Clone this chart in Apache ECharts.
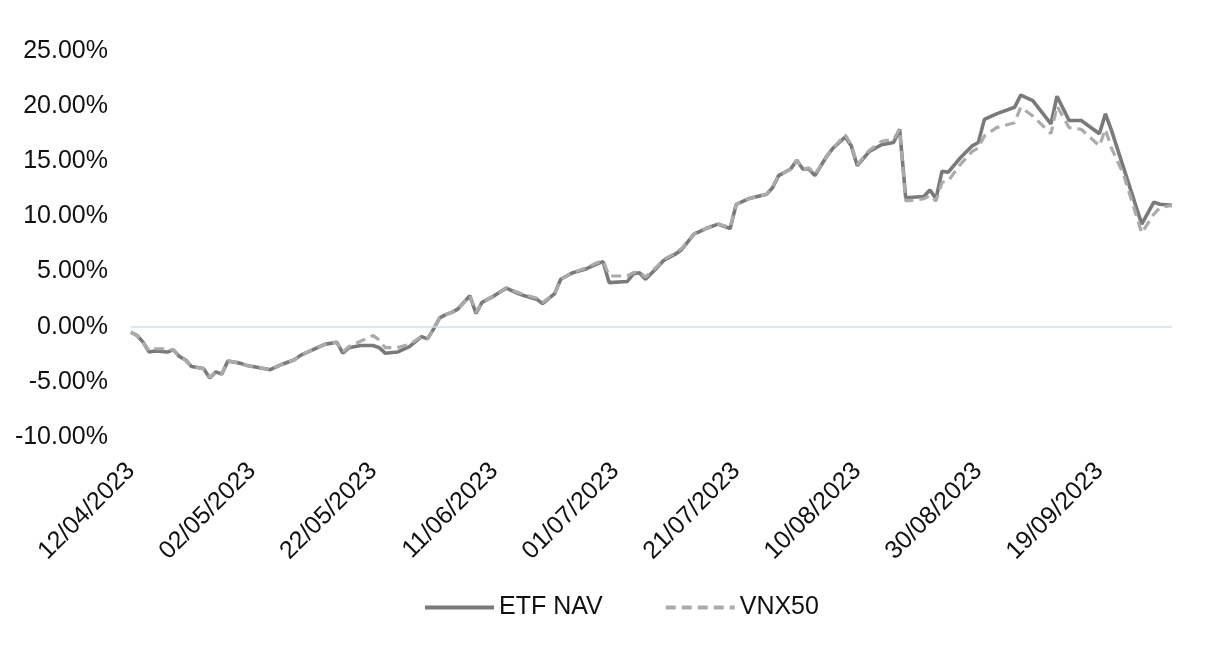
<!DOCTYPE html>
<html>
<head>
<meta charset="utf-8">
<style>
  html, body { margin: 0; padding: 0; background: #ffffff; }
  #chart { width: 1210px; height: 649px; }
</style>
<script src="https://cdn.jsdelivr.net/npm/echarts@6/dist/echarts.min.js"></script>
</head>
<body>
<div id="chart"></div>
<script>
// ---- data ----
const dates = [
  '12/04/2023','13/04/2023','14/04/2023','15/04/2023','16/04/2023','17/04/2023','18/04/2023','19/04/2023',
  '20/04/2023','21/04/2023','22/04/2023','23/04/2023','24/04/2023','25/04/2023','26/04/2023','27/04/2023',
  '28/04/2023','30/04/2023','01/05/2023','03/05/2023','05/05/2023','07/05/2023','09/05/2023','10/05/2023',
  '12/05/2023','14/05/2023','16/05/2023','17/05/2023','18/05/2023','20/05/2023','22/05/2023','23/05/2023',
  '24/05/2023','26/05/2023','28/05/2023','30/05/2023','31/05/2023','01/06/2023','02/06/2023','03/06/2023',
  '04/06/2023','05/06/2023','07/06/2023','08/06/2023','09/06/2023','11/06/2023','13/06/2023','15/06/2023',
  '16/06/2023','18/06/2023','19/06/2023','21/06/2023','22/06/2023','24/06/2023','26/06/2023','28/06/2023',
  '29/06/2023','30/06/2023','03/07/2023','04/07/2023','05/07/2023','06/07/2023','08/07/2023','09/07/2023',
  '11/07/2023','12/07/2023','14/07/2023','16/07/2023','18/07/2023','20/07/2023','21/07/2023','23/07/2023',
  '26/07/2023','27/07/2023','28/07/2023','30/07/2023','31/07/2023','01/08/2023','02/08/2023','03/08/2023',
  '05/08/2023','06/08/2023','08/08/2023','09/08/2023','10/08/2023','12/08/2023','14/08/2023','16/08/2023',
  '17/08/2023','18/08/2023','21/08/2023','22/08/2023','23/08/2023','24/08/2023','25/08/2023','27/08/2023',
  '29/08/2023','30/08/2023','31/08/2023','02/09/2023','05/09/2023','06/09/2023','08/09/2023','11/09/2023',
  '12/09/2023','14/09/2023','16/09/2023','19/09/2023','20/09/2023','21/09/2023','23/09/2023','26/09/2023',
  '28/09/2023','29/09/2023','01/10/2023'
];

const etfNav = [
  -0.5,-0.8,-1.4,-2.3,-2.2,-2.25,-2.3,-2.1,
  -2.7,-3.0,-3.6,-3.7,-3.8,-4.65,-4.1,-4.3,
  -3.1,-3.3,-3.5,-3.7,-3.9,-3.4,-3.0,-2.6,
  -2.1,-1.6,-1.4,-2.4,-1.9,-1.7,-1.7,-1.9,
  -2.4,-2.3,-1.8,-0.9,-1.1,-0.2,0.8,1.1,
  1.3,1.6,2.8,1.2,2.2,2.8,3.5,3.0,
  2.8,2.5,2.1,3.0,4.3,4.9,5.2,5.7,
  5.9,4.0,4.1,4.8,4.9,4.3,5.4,6.0,
  6.6,7.0,8.4,8.9,9.3,8.9,11.1,11.6,
  12.0,12.6,13.7,14.3,15.1,14.3,14.3,13.7,
  15.5,16.2,17.2,16.4,14.6,15.9,16.5,16.7,
  17.9,11.7,11.8,12.4,11.6,14.1,14.0,15.3,
  16.4,16.7,18.8,19.3,19.9,21.0,20.5,18.4,
  20.9,18.7,18.7,17.5,19.3,17.8,14.4,9.3,
  11.3,11.1,11.0
];

const vnx50 = [
  -0.5,-0.8,-1.4,-2.2,-2.0,-2.0,-2.05,-2.1,
  -2.7,-3.0,-3.6,-3.7,-3.8,-4.6,-4.1,-4.3,
  -3.1,-3.3,-3.5,-3.7,-3.9,-3.4,-3.0,-2.6,
  -2.1,-1.6,-1.4,-2.3,-1.8,-1.3,-0.8,-1.2,
  -1.9,-1.9,-1.6,-0.9,-1.1,-0.2,0.8,1.1,
  1.3,1.6,2.8,1.3,2.2,2.8,3.5,3.1,
  2.9,2.6,2.2,3.0,4.3,4.9,5.3,5.8,
  6.0,4.6,4.6,4.9,5.0,4.5,5.5,6.1,
  6.7,7.1,8.4,8.9,9.3,9.0,11.1,11.6,
  12.0,12.7,13.7,14.3,15.1,14.3,14.4,13.8,
  15.5,16.2,17.4,16.5,14.7,16.0,16.8,17.0,
  17.9,11.4,11.6,11.9,11.4,13.1,13.2,14.7,
  15.9,16.2,17.3,18.05,18.5,19.9,19.1,17.5,
  20.0,18.05,17.9,16.4,17.9,16.2,13.8,8.5,
  10.2,10.8,11.0
];

const yTicks = { min: -10, max: 25, step: 5 };
const xTickStepDays = 20;

// ---- helpers ----
function parseDMY(s) {
  const p = s.split('/');
  return Date.UTC(+p[2], +p[1] - 1, +p[0]);
}
const base = parseDMY(dates[0]);
const DAY = 86400000;
const dayIdx = dates.map(s => Math.round((parseDMY(s) - base) / DAY));
function fmtDay(v) {
  const d = new Date(base + v * DAY);
  const dd = String(d.getUTCDate()).padStart(2, '0');
  const mm = String(d.getUTCMonth() + 1).padStart(2, '0');
  return dd + '/' + mm + '/' + d.getUTCFullYear();
}
const lastDay = dayIdx[dayIdx.length - 1];

const chart = echarts.init(document.getElementById('chart'), null, { renderer: 'canvas' });
const FONT = '"Liberation Sans", Arial, sans-serif';

chart.setOption({
  backgroundColor: '#ffffff',
  animation: false,
  textStyle: { fontFamily: FONT },
  grid: { left: 131, right: 1210 - 1172, top: 51, bottom: 649 - 437, outerBoundsMode: 'none', containLabel: false },
  legend: {
    left: 418, top: 590,
    itemWidth: 69, itemHeight: 14, itemGap: 61,
    itemStyle: { opacity: 0, borderWidth: 0 },
    lineStyle: { width: 4 },
    textStyle: { fontSize: 25, color: '#111', fontFamily: FONT },
    data: ['ETF NAV', 'VNX50']
  },
  xAxis: {
    type: 'value',
    min: 0, max: lastDay, interval: xTickStepDays,
    axisLine: { show: false },
    axisTick: { show: false },
    splitLine: { show: false },
    axisLabel: {
      rotate: 45, margin: 30, fontSize: 25, color: '#111', fontFamily: FONT,
      showMaxLabel: false,
      formatter: v => (v % xTickStepDays === 0 ? fmtDay(v) : '')
    }
  },
  yAxis: {
    type: 'value',
    min: yTicks.min, max: yTicks.max, interval: yTicks.step,
    axisLine: { show: false },
    axisTick: { show: false },
    splitLine: { show: false },
    axisLabel: {
      margin: 23, fontSize: 25, color: '#111', fontFamily: FONT,
      formatter: v => v.toFixed(2) + '%'
    }
  },
  series: [
    {
      name: 'ETF NAV', type: 'line', symbol: 'none', showSymbol: false,
      data: dayIdx.map((d, i) => [d, etfNav[i]]),
      lineStyle: { color: '#7a7a7a', width: 3.6, type: 'solid' },
      itemStyle: { color: '#7a7a7a' },
      markLine: {
        silent: true, symbol: 'none',
        label: { show: false },
        lineStyle: { color: '#d5dcee', width: 1.5, type: 'solid' },
        data: [{ yAxis: 0 }]
      },
      z: 2
    },
    {
      name: 'VNX50', type: 'line', symbol: 'none', showSymbol: false,
      data: dayIdx.map((d, i) => [d, vnx50[i]]),
      lineStyle: { color: '#ababab', width: 3.2, type: [10, 6] },
      itemStyle: { color: '#ababab' },
      z: 3
    }
  ]
});
</script>
</body>
</html>
